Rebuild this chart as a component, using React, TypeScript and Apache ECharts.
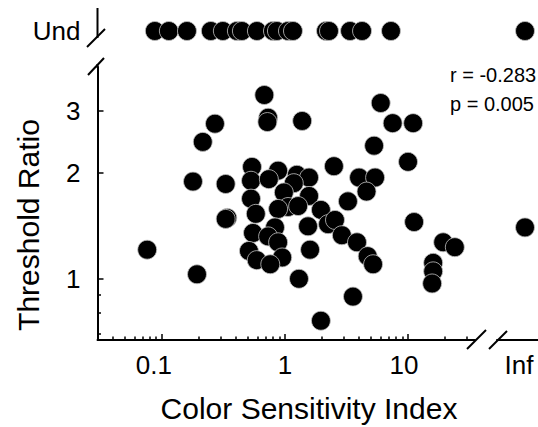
import React, { useEffect, useRef } from "react";
import * as echarts from "echarts";

// ---- data ----
const mainX = [0.68, 0.73, 0.72, 1.38, 0.27, 0.215, 6.0, 7.5, 11.0, 5.3, 10.0, 0.54, 0.88, 1.25, 1.57, 2.5, 4.0, 5.4, 0.179, 0.33, 0.53, 0.74, 1.18, 0.98, 1.57, 4.6, 3.25, 0.53, 1.06, 1.28, 0.88, 0.58, 1.96, 2.24, 2.55, 1.54, 0.83, 0.55, 0.73, 0.88, 2.9, 3.85, 0.51, 1.6, 0.95, 0.59, 0.76, 4.7, 5.2, 0.34, 0.33, 0.076, 0.193, 1.3, 3.57, 1.96, 11.2, 19.3, 24, 16, 16, 15.7];
const mainY = [3.33, 2.87, 2.79, 2.81, 2.76, 2.45, 3.16, 2.77, 2.77, 2.39, 2.15, 2.08, 2.03, 1.975, 1.94, 2.09, 1.94, 1.94, 1.89, 1.86, 1.9, 1.92, 1.87, 1.76, 1.72, 1.77, 1.66, 1.69, 1.6, 1.61, 1.58, 1.53, 1.57, 1.43, 1.47, 1.41, 1.4, 1.35, 1.32, 1.27, 1.33, 1.27, 1.2, 1.21, 1.15, 1.13, 1.1, 1.16, 1.1, 1.49, 1.48, 1.21, 1.03, 1.0, 0.89, 0.76, 1.45, 1.27, 1.23, 1.11, 1.05, 0.97];
// "Und" (undefined threshold ratio) row: colour sensitivity index values
const undX = [0.0877, 0.114, 0.16, 0.25, 0.313, 0.407, 0.447, 0.592, 0.799, 0.861, 1.058, 1.162, 2.155, 2.28, 3.38, 4.23, 7.27];
// "Inf" column: threshold ratio values
const infY = [1.4];
// points that are both Inf and Und
const infUndCount = 1;

const xMajorTicks = [0.1, 1, 10];
const xMinorTicks = [0.04, 0.05, 0.06, 0.07, 0.08, 0.09, 0.2, 0.3, 0.4, 0.5, 0.6, 0.7, 0.8, 0.9, 2, 3, 4, 5, 6, 7, 8, 9, 20, 30];
const yMajorTicks = [1, 2, 3];
const yMinorTicks = [0.7, 0.8, 0.9];
const xMin = 0.03;
const xMax = 35;
const yMin = 0.67;
const yMax = 4;

const FONT = "'Liberation Sans', Arial, Helvetica, sans-serif";

export default function App() {
  const ref = useRef<HTMLDivElement>(null);
  useEffect(() => {
    if (!ref.current) return;
    const chart = echarts.init(ref.current, undefined, { renderer: "svg" });
    const marker = {
      symbol: "circle",
      symbolSize: 19,
      itemStyle: { color: "#000", opacity: 1, borderColor: "#c4c4c4", borderWidth: 0.8 },
    };
    const axisLine = { show: true, lineStyle: { color: "#000", width: 2 } };
    const tickStyle = { color: "#000", width: 1.5 };
    const labelBase = { color: "#000", fontFamily: FONT, fontSize: 26 };

    const option: any = {
      animation: false,
      grid: [
        { left: 97.5, top: 67, width: 377.5, height: 273, outerBoundsMode: "none", containLabel: false },
        { left: 97.5, top: 8, width: 377.5, height: 46, outerBoundsMode: "none", containLabel: false },
        { left: 497, top: 67, width: 56, height: 273, outerBoundsMode: "none", containLabel: false },
        { left: 497, top: 8, width: 56, height: 46, outerBoundsMode: "none", containLabel: false },
      ],
      xAxis: [
        {
          gridIndex: 0, type: "log", min: xMin, max: xMax, position: "bottom",
          axisLine,
          axisTick: { show: true, inside: true, length: 6, customValues: xMajorTicks, lineStyle: tickStyle },
          axisLabel: {
            ...labelBase,
            margin: 12,
            customValues: xMajorTicks,
            formatter: (v: number) => (v < 0.5 ? "{a|0.1}" : v < 5 ? "{b|1}" : "{c|10}"),
            rich: {
              a: { ...labelBase, padding: [0, 16, 0, 0] },
              b: { ...labelBase },
              c: { ...labelBase, padding: [0, 8, 0, 0] },
            },
          },
          splitLine: { show: false },
        },
        {
          gridIndex: 0, type: "log", min: xMin, max: xMax, position: "bottom",
          axisLine: { show: false },
          axisTick: { show: true, inside: true, length: 3.5, customValues: xMinorTicks, lineStyle: tickStyle },
          axisLabel: { show: false },
          splitLine: { show: false },
        },
        { gridIndex: 1, type: "log", min: xMin, max: xMax, show: false },
        {
          gridIndex: 2, type: "category", data: ["Inf"], position: "bottom",
          axisLine,
          axisTick: { show: false },
          axisLabel: {
            ...labelBase,
            margin: 12,
            formatter: (v: string) => `{i|${v}}`,
            rich: { i: { ...labelBase, padding: [0, 12, 0, 0] } },
          },
          splitLine: { show: false },
        },
        { gridIndex: 3, type: "category", data: ["Inf"], show: false },
      ],
      yAxis: [
        {
          gridIndex: 0, type: "log", min: yMin, max: yMax, position: "left",
          axisLine,
          axisTick: { show: true, inside: true, length: 6, customValues: yMajorTicks, lineStyle: tickStyle },
          axisLabel: {
            ...labelBase,
            margin: 17,
            customValues: yMajorTicks,
            formatter: (v: number) => String(Math.round(v)),
          },
          splitLine: { show: false },
        },
        {
          gridIndex: 0, type: "log", min: yMin, max: yMax, position: "left",
          axisLine: { show: false },
          axisTick: { show: true, inside: true, length: 3.5, customValues: yMinorTicks, lineStyle: tickStyle },
          axisLabel: { show: false },
          splitLine: { show: false },
        },
        {
          gridIndex: 1, type: "category", data: ["Und"], position: "left",
          axisLine: { show: false },
          axisTick: { show: false },
          axisLabel: { ...labelBase, margin: 17 },
          splitLine: { show: false },
        },
        { gridIndex: 2, type: "log", min: yMin, max: yMax, show: false },
        { gridIndex: 3, type: "category", data: ["Und"], show: false },
      ],
      series: [
        { type: "scatter", xAxisIndex: 0, yAxisIndex: 0, ...marker, data: mainX.map((x, i) => [x, mainY[i]]) },
        { type: "scatter", xAxisIndex: 2, yAxisIndex: 2, ...marker, data: undX.map((x) => [x, "Und"]) },
        { type: "scatter", xAxisIndex: 3, yAxisIndex: 3, ...marker, data: infY.map((y) => ["Inf", y]) },
        { type: "scatter", xAxisIndex: 4, yAxisIndex: 4, ...marker, data: Array.from({ length: infUndCount }, () => ["Inf", "Und"]) },
      ],
      graphic: [
        // broken-axis decorations
        { type: "line", shape: { x1: 97.5, y1: 8, x2: 97.5, y2: 38 }, style: { stroke: "#000", lineWidth: 2 } },
        { type: "line", shape: { x1: 87, y1: 47, x2: 105, y2: 29 }, style: { stroke: "#000", lineWidth: 2 } },
        { type: "line", shape: { x1: 97.5, y1: 64, x2: 97.5, y2: 68 }, style: { stroke: "#000", lineWidth: 2 } },
        { type: "line", shape: { x1: 88, y1: 75, x2: 104, y2: 58 }, style: { stroke: "#000", lineWidth: 2 } },
        { type: "line", shape: { x1: 467, y1: 349, x2: 486, y2: 330 }, style: { stroke: "#000", lineWidth: 2 } },
        { type: "line", shape: { x1: 489, y1: 349, x2: 507, y2: 331 }, style: { stroke: "#000", lineWidth: 2 } },
        // statistics
        { type: "text", x: 450, y: 75, style: { text: "r = -0.283", fill: "#000", font: `20px ${FONT}`, textAlign: "left", textVerticalAlign: "middle" } },
        { type: "text", x: 450, y: 104, style: { text: "p = 0.005", fill: "#000", font: `20px ${FONT}`, textAlign: "left", textVerticalAlign: "middle" } },
        // axis titles
        { type: "text", x: 309, y: 408, style: { text: "Color Sensitivity Index", fill: "#000", font: `30px ${FONT}`, textAlign: "center", textVerticalAlign: "middle" } },
        { type: "text", x: 28, y: 225, rotation: Math.PI / 2, style: { text: "Threshold Ratio", fill: "#000", font: `30px ${FONT}`, textAlign: "center", textVerticalAlign: "middle" } },
      ],
    };
    chart.setOption(option);
    return () => chart.dispose();
  }, []);
  return <div ref={ref} style={{ position: "absolute", left: 0, top: 0, width: 538, height: 427, background: "#fff" }} />;
}
